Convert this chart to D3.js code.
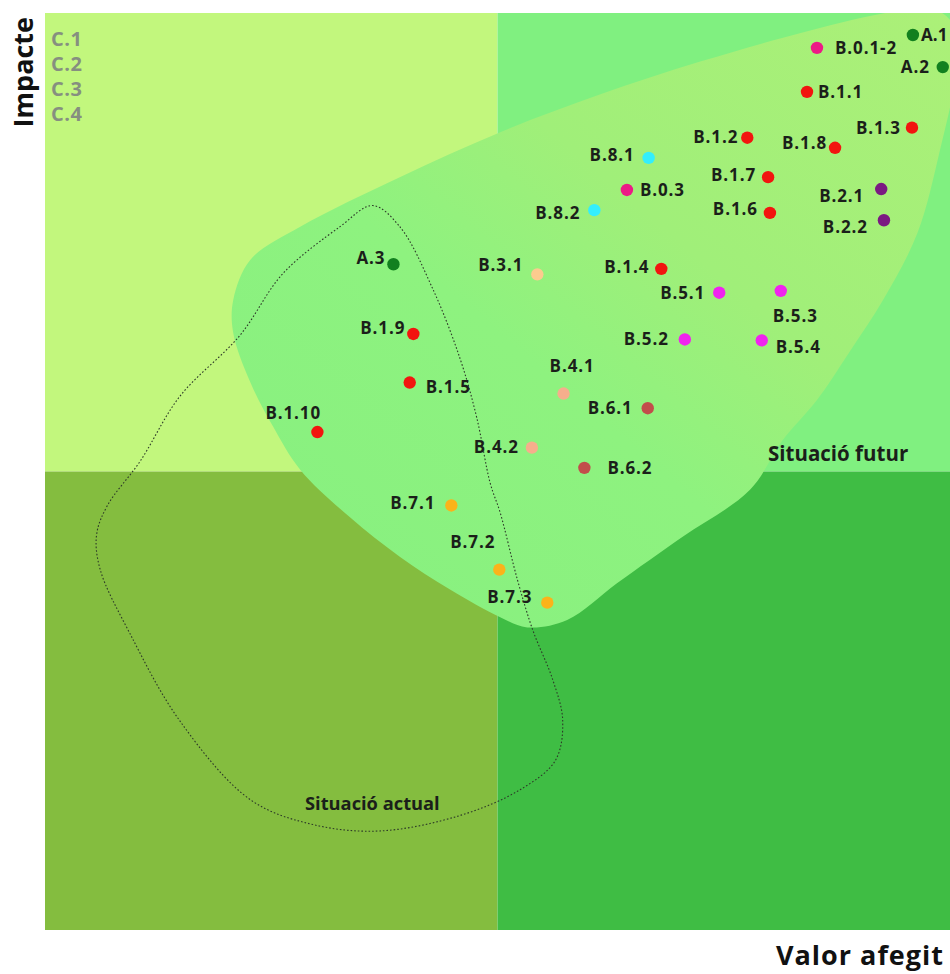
<!DOCTYPE html>
<html><head><meta charset="utf-8">
<script src="https://cdn.jsdelivr.net/npm/d3@7"></script>
<style>
html,body{margin:0;padding:0;background:#fff;}
svg{display:block;font-family:"Open Sans","DejaVu Sans",sans-serif;}
</style></head>
<body>
<script>
// ---------- data ----------
const names  = ["A.1","A.2","B.0.1-2","B.1.1","B.1.2","B.1.8","B.1.3","B.8.1","B.1.7","B.0.3","B.2.1","B.8.2","B.1.6","B.2.2","A.3","B.3.1","B.1.4","B.5.1","B.5.3","B.1.9","B.5.2","B.5.4","B.1.5","B.4.1","B.6.1","B.1.10","B.4.2","B.6.2","B.7.1","B.7.2","B.7.3"];
const valorAfegit = [9.59,9.92,8.53,8.42,7.76,8.73,9.58,6.67,7.99,6.43,9.24,6.07,8.01,9.27,3.85,5.44,6.81,7.45,8.13,4.07,7.07,7.92,4.03,5.73,6.66,3.01,5.38,5.96,4.49,5.02,5.55];
const impacte     = [9.76,9.41,9.62,9.14,8.64,8.53,8.75,8.42,8.21,8.07,8.08,7.85,7.82,7.74,7.26,7.15,7.21,6.95,6.97,6.50,6.44,6.43,5.97,5.85,5.69,5.43,5.26,5.04,4.63,3.93,3.57];
const groups = ["A","A","B0","B1","B1","B1","B1","B8","B1","B0","B2","B8","B1","B2","A","B3","B1","B5","B5","B1","B5","B5","B1","B4","B6","B1","B4","B6","B7","B7","B7"];
const cLabels = ["C.1","C.2","C.3","C.4"];
const quadrantSplit = [5, 5];
// "Situació futur" region outline (valor afegit, impacte)
const futurX = [2.08,2.27,2.82,3.92,5.03,6.13,7.24,8.34,9.23,9.80,10.05,10.05,9.89,9.64,9.26,8.90,8.53,8.15,7.79,7.05,6.32,5.77,5.33,5.03,4.48,3.92,3.37,2.82,2.52,2.27,2.08];
const futurY = [6.87,7.31,7.67,8.21,8.70,9.11,9.47,9.78,9.99,10.05,9.85,9.27,8.51,7.60,6.87,6.32,5.78,5.34,4.80,4.29,3.78,3.38,3.30,3.41,3.71,4.07,4.50,5.02,5.49,5.97,6.51];
// "Situació actual" region outline
const actualX = [3.62,3.92,4.29,4.59,4.77,4.92,5.03,5.22,5.39,5.61,5.72,5.64,5.25,4.59,3.70,2.96,2.27,1.49,0.94,0.61,0.57,0.69,1.05,1.49,2.15,2.63,3.26];
const actualY = [7.90,7.67,6.98,6.22,5.59,4.87,4.55,3.82,3.27,2.73,2.29,1.85,1.53,1.25,1.08,1.15,1.42,2.28,3.23,3.93,4.31,4.63,5.11,5.82,6.48,7.16,7.67];

// ---------- styles / layout ----------
const groupColor = {A:"#12801f",B0:"#ec1a86",B1:"#f2150f",B2:"#7b1a82",B3:"#fccb8e",B4:"#f6ae8c",B5:"#f024ee",B6:"#c24e4b",B7:"#fbb31a",B8:"#33eefc"};
// label placement: [anchor, dx, dy] relative to the dot centre
const labelPlace = {
 "A.1":["start",8,0],"A.2":["end",-13,0],"B.0.1-2":["start",18,0],"B.1.1":["start",11,0],
 "B.1.2":["end",-9,-1],"B.1.8":["end",-8,-5],"B.1.3":["end",-11,0],"B.8.1":["end",-14,-3],
 "B.1.7":["end",-12,-2],"B.0.3":["start",13,0],"B.2.1":["end",-17,7],"B.8.2":["end",-14,3],
 "B.1.6":["end",-12,-4],"B.2.2":["end",-16,7],"A.3":["end",-8,-6],"B.3.1":["end",-14,-9],
 "B.1.4":["end",-12,-2],"B.5.1":["end",-14,0],"B.5.3":["start",-8,25],"B.1.9":["end",-8,-6],
 "B.5.2":["end",-16,0],"B.5.4":["start",14,7],"B.1.5":["start",16,4],"B.4.1":["start",-14,-28],
 "B.6.1":["end",-15,0],"B.1.10":["start",-52,-19],"B.4.2":["end",-13,-1],"B.6.2":["start",23,0],
 "B.7.1":["end",-16,-2],"B.7.2":["start",-49,-28],"B.7.3":["end",-15,-6]
};

const W = 950, H = 974;
const plot = {left:45, right:950, top:13, bottom:930};
const x = d3.scaleLinear().domain([0,10]).range([plot.left, plot.right]);
const y = d3.scaleLinear().domain([0,10]).range([plot.bottom, plot.top]);

const svg = d3.select("body").append("svg").attr("width",W).attr("height",H);
const defs = svg.append("defs");
defs.append("clipPath").attr("id","plotclip").append("rect")
  .attr("x",plot.left).attr("y",plot.top).attr("width",plot.right-plot.left).attr("height",plot.bottom-plot.top);
const grad = defs.append("linearGradient").attr("id","futurGrad")
  .attr("x1",0).attr("y1",1).attr("x2",1).attr("y2",0);
[[0,"#86f080"],[0.42,"#8ef27f"],[0.62,"#a0ef79"],[1,"#acf078"]].forEach(s=>
  grad.append("stop").attr("offset",s[0]).attr("stop-color",s[1]));

const g = svg.append("g").attr("clip-path","url(#plotclip)");

// quadrants
const quads = [
  {x0:0,x1:quadrantSplit[0],y0:quadrantSplit[1],y1:10,c:"#c2f77d"},
  {x0:quadrantSplit[0],x1:10,y0:quadrantSplit[1],y1:10,c:"#80f080"},
  {x0:0,x1:quadrantSplit[0],y0:0,y1:quadrantSplit[1],c:"#84bd3f"},
  {x0:quadrantSplit[0],x1:10,y0:0,y1:quadrantSplit[1],c:"#3fbd44"}
];
g.selectAll("rect.q").data(quads).join("rect").attr("class","q")
  .attr("x",d=>x(d.x0)).attr("y",d=>y(d.y1))
  .attr("width",d=>x(d.x1)-x(d.x0)).attr("height",d=>y(d.y0)-y(d.y1))
  .attr("fill",d=>d.c);

// future region
const futur = futurX.map((v,i)=>[v,futurY[i]]);
g.append("path").datum(futur)
  .attr("d", d3.line().x(d=>x(d[0])).y(d=>y(d[1])).curve(d3.curveCatmullRomClosed.alpha(0.5)))
  .attr("fill","url(#futurGrad)");

// current region (dotted)
const actual = actualX.map((v,i)=>[v,actualY[i]]);
g.append("path").datum(actual)
  .attr("d", d3.line().x(d=>x(d[0])).y(d=>y(d[1])).curve(d3.curveCatmullRomClosed.alpha(0.5)))
  .attr("fill","none").attr("stroke","#2d3a28").attr("stroke-width",1.1).attr("stroke-dasharray","1.6,2");

// points
const pts = names.map((n,i)=>({name:n,vx:valorAfegit[i],vy:impacte[i],grp:groups[i]}));
g.selectAll("circle.pt").data(pts).join("circle").attr("class","pt")
  .attr("cx",d=>x(d.vx)).attr("cy",d=>y(d.vy)).attr("r",6.2)
  .attr("fill",d=>groupColor[d.grp]);

// point labels
g.selectAll("text.lbl").data(pts).join("text").attr("class","lbl")
  .attr("x",d=>x(d.vx)+labelPlace[d.name][1])
  .attr("y",d=>y(d.vy)+labelPlace[d.name][2]+6)
  .attr("text-anchor",d=>labelPlace[d.name][0])
  .attr("font-size",17).attr("font-weight","bold")
  .attr("letter-spacing",d=>d.name==="A.1"?"0.2px":"0.9px")
  .attr("fill","#1b1f1a")
  .text(d=>d.name);

// region names
g.append("text").attr("x",768).attr("y",461).attr("font-size",20.5).attr("font-weight","bold")
  .attr("fill","#1b1f1a").text("Situació futur");
g.append("text").attr("x",305).attr("y",810).attr("font-size",18.3).attr("font-weight","bold")
  .attr("fill","#1b1f1a").text("Situació actual");

// C labels
g.selectAll("text.c").data(cLabels).join("text").attr("class","c")
  .attr("x",51).attr("y",(d,i)=>46+i*25)
  .attr("font-size",20).attr("font-weight","bold").attr("letter-spacing","0.5px")
  .attr("fill","#868f80").text(d=>d);

// axis titles
svg.append("text").attr("transform","translate(33,17) rotate(-90)")
  .attr("text-anchor","end").attr("font-size",27).attr("font-weight","bold")
  .attr("fill","#111").text("Impacte");
svg.append("text").attr("x",944).attr("y",965).attr("text-anchor","end")
  .attr("font-size",27).attr("font-weight","bold").attr("letter-spacing","1px")
  .attr("fill","#111").text("Valor afegit");
</script>
</body></html>
